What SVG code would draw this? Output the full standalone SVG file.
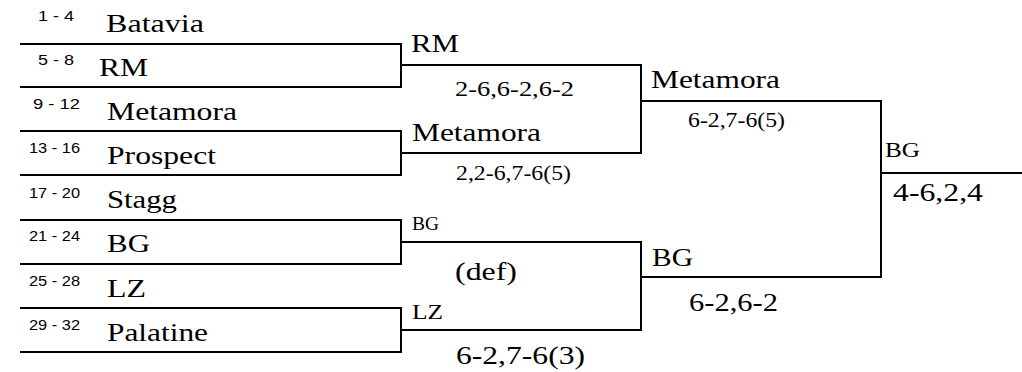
<svg xmlns="http://www.w3.org/2000/svg" width="1022" height="372" viewBox="0 0 1022 372">
<style>
.bg{fill:#fff}
.ln{stroke:#000;stroke-width:2;fill:none}
.seed{font-family:"Liberation Sans",Arial,sans-serif;font-size:14px;fill:#000}
.nm{font-family:"Liberation Serif","Times New Roman",serif;font-size:26px;fill:#000}
.s22{font-family:"Liberation Serif","Times New Roman",serif;font-size:22px;fill:#000}
.s20{font-family:"Liberation Serif","Times New Roman",serif;font-size:20px;fill:#000}
.s18{font-family:"Liberation Serif","Times New Roman",serif;font-size:18px;fill:#000}
</style>
<rect class="bg" x="0" y="0" width="1022" height="372"/>
<g id="connectors">
<path class="ln" d="M20 44H402M20 87H402M401 44V87"/>
<path class="ln" d="M20 131H402M20 175H402M401 131V175"/>
<path class="ln" d="M20 220H402M20 264H402M401 220V264"/>
<path class="ln" d="M20 308H402M20 352H402M401 308V352"/>
<path class="ln" d="M401 65H642M401 153H642M641 65V153"/>
<path class="ln" d="M401 242H642M401 330H642M641 242V330"/>
<path class="ln" d="M641 101H882M641 277H882M881 101V277"/>
<path class="ln" d="M881 173H1022"/>
</g>
<g id="team-1-4"><text class="seed" x="38" y="21" textLength="36" lengthAdjust="spacingAndGlyphs">1 - 4</text><text class="nm" x="106" y="32" textLength="98" lengthAdjust="spacingAndGlyphs">Batavia</text></g>
<g id="team-5-8"><text class="seed" x="38" y="65" textLength="36" lengthAdjust="spacingAndGlyphs">5 - 8</text><text class="nm" x="99" y="76" textLength="49" lengthAdjust="spacingAndGlyphs">RM</text></g>
<g id="team-9-12"><text class="seed" x="33" y="109" textLength="47" lengthAdjust="spacingAndGlyphs">9 - 12</text><text class="nm" x="107" y="120" textLength="130" lengthAdjust="spacingAndGlyphs">Metamora</text></g>
<g id="team-13-16"><text class="seed" x="29" y="153" textLength="51" lengthAdjust="spacingAndGlyphs">13 - 16</text><text class="nm" x="107" y="164" textLength="109" lengthAdjust="spacingAndGlyphs">Prospect</text></g>
<g id="team-17-20"><text class="seed" x="29" y="198" textLength="51" lengthAdjust="spacingAndGlyphs">17 - 20</text><text class="nm" x="107" y="208" textLength="70" lengthAdjust="spacingAndGlyphs">Stagg</text></g>
<g id="team-21-24"><text class="seed" x="29" y="241" textLength="51" lengthAdjust="spacingAndGlyphs">21 - 24</text><text class="nm" x="107" y="252" textLength="43" lengthAdjust="spacingAndGlyphs">BG</text></g>
<g id="team-25-28"><text class="seed" x="29" y="286" textLength="51" lengthAdjust="spacingAndGlyphs">25 - 28</text><text class="nm" x="107" y="297" textLength="39" lengthAdjust="spacingAndGlyphs">LZ</text></g>
<g id="team-29-32"><text class="seed" x="29" y="330" textLength="51" lengthAdjust="spacingAndGlyphs">29 - 32</text><text class="nm" x="107" y="341" textLength="101" lengthAdjust="spacingAndGlyphs">Palatine</text></g>
<g id="r2-match-1"><text class="nm" x="411" y="52" textLength="48" lengthAdjust="spacingAndGlyphs">RM</text><text class="s22" x="455" y="96" textLength="119" lengthAdjust="spacingAndGlyphs">2-6,6-2,6-2</text></g>
<g id="r2-match-2"><text class="nm" x="412" y="141" textLength="129" lengthAdjust="spacingAndGlyphs">Metamora</text><text class="s20" x="456" y="180" textLength="115" lengthAdjust="spacingAndGlyphs">2,2-6,7-6(5)</text></g>
<g id="r2-match-3"><text class="s18" x="412" y="230" textLength="27" lengthAdjust="spacingAndGlyphs">BG</text><text class="nm" x="455" y="280" textLength="62" lengthAdjust="spacingAndGlyphs">(def)</text></g>
<g id="r2-match-4"><text class="s20" x="412" y="319" textLength="31" lengthAdjust="spacingAndGlyphs">LZ</text><text class="nm" x="456" y="364" textLength="129" lengthAdjust="spacingAndGlyphs">6-2,7-6(3)</text></g>
<g id="r3-match-1"><text class="nm" x="651" y="88" textLength="129" lengthAdjust="spacingAndGlyphs">Metamora</text><text class="s20" x="688" y="127" textLength="97" lengthAdjust="spacingAndGlyphs">6-2,7-6(5)</text></g>
<g id="r3-match-2"><text class="nm" x="652" y="266" textLength="41" lengthAdjust="spacingAndGlyphs">BG</text><text class="nm" x="689" y="311" textLength="89" lengthAdjust="spacingAndGlyphs">6-2,6-2</text></g>
<g id="final"><text class="s20" x="885" y="157" textLength="35" lengthAdjust="spacingAndGlyphs">BG</text><text class="nm" x="893" y="201" textLength="90" lengthAdjust="spacingAndGlyphs">4-6,2,4</text></g>
</svg>
